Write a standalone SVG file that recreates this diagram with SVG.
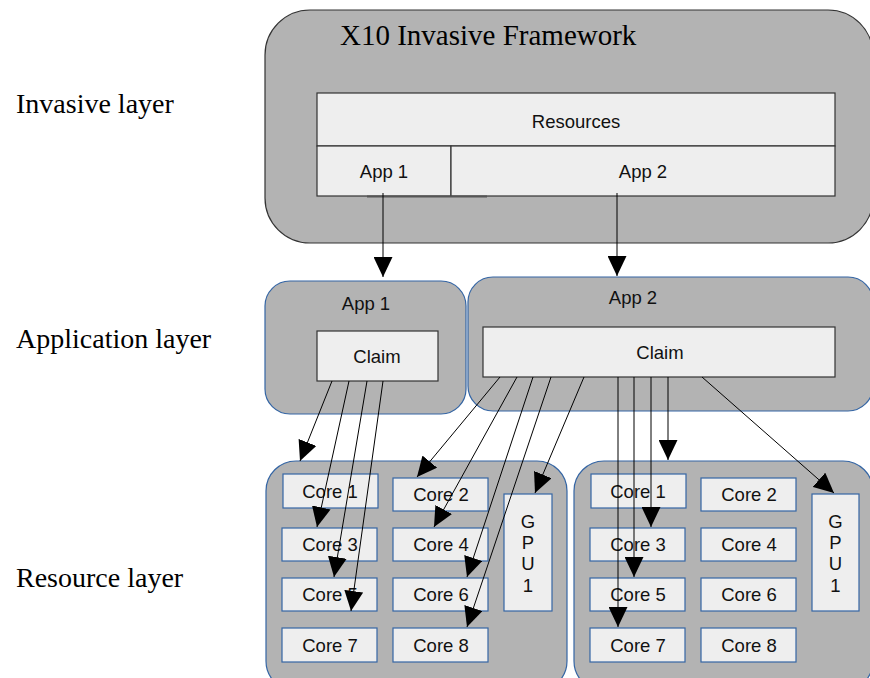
<svg xmlns="http://www.w3.org/2000/svg" width="870" height="678" viewBox="0 0 870 678">
<style>
.lbl{font-family:"Liberation Serif","Times New Roman",serif;font-size:28px;fill:#000}
.t{font-family:"Liberation Sans",Arial,sans-serif;font-size:18.5px;fill:#111;text-anchor:middle}
.grp{fill:#b3b3b3;stroke:#3465a4;stroke-width:1.2}
.top{fill:#b3b3b3;stroke:#333;stroke-width:1.2}
.cell{fill:#eeeeee;stroke:#333;stroke-width:1.2}
.core{fill:#eeeeee;stroke:#3465a4;stroke-width:1.2}
.c{stroke:#000;stroke-width:1;fill:none;marker-end:url(#ah)}
</style>
<defs>
<marker id="ah" markerUnits="userSpaceOnUse" markerWidth="20" markerHeight="19" refX="20" refY="9.5" orient="auto">
<path d="M0,0 L20,9.5 L0,19 z" fill="#000"/>
</marker>
</defs>
<rect width="870" height="678" fill="#fff"/>
<text class="lbl" x="16" y="113">Invasive layer</text>
<text class="lbl" x="16" y="348">Application layer</text>
<text class="lbl" x="16" y="587">Resource layer</text>

<g id="framework">
<rect class="top" x="265" y="10" width="608" height="233" rx="45"/>
<text class="lbl" x="340" y="45" style="font-size:29px">X10 Invasive Framework</text>
<rect class="cell" x="317" y="93" width="518" height="53"/>
<text class="t" x="576" y="128">Resources</text>
<rect class="cell" x="317" y="146" width="134" height="50"/>
<text class="t" x="384" y="178">App 1</text>
<rect class="cell" x="451" y="146" width="384" height="50"/>
<text class="t" x="643" y="178">App 2</text>
<line x1="367" y1="196.5" x2="487" y2="196.5" stroke="#555" stroke-width="2"/>
</g>

<g id="app1">
<rect class="grp" x="265" y="281" width="201" height="133" rx="25"/>
<text class="t" x="366" y="310">App 1</text>
<rect class="cell" x="317" y="331" width="121" height="50"/>
<text class="t" x="377" y="363">Claim</text>
</g>

<g id="app2">
<rect class="grp" x="468" y="277" width="405" height="134" rx="25"/>
<text class="t" x="633" y="304">App 2</text>
<rect class="cell" x="483" y="327" width="352" height="50"/>
<text class="t" x="660" y="359">Claim</text>
</g>

<g id="res1">
<rect class="grp" x="266" y="461" width="301" height="230" rx="30"/>
<rect class="core" x="283" y="474" width="95" height="34"/>
<text class="t" x="330" y="497.5">Core 1</text>
<rect class="core" x="393" y="478" width="95" height="33"/>
<text class="t" x="441" y="501">Core 2</text>
<rect class="core" x="282" y="528" width="95" height="33"/>
<text class="t" x="330" y="551">Core 3</text>
<rect class="core" x="393" y="528" width="95" height="33"/>
<text class="t" x="441" y="551">Core 4</text>
<rect class="core" x="282" y="578" width="95" height="33"/>
<text class="t" x="330" y="601">Core 5</text>
<rect class="core" x="393" y="578" width="95" height="33"/>
<text class="t" x="441" y="601">Core 6</text>
<rect class="core" x="282" y="628" width="95" height="34"/>
<text class="t" x="330" y="651.5">Core 7</text>
<rect class="core" x="393" y="628" width="95" height="34"/>
<text class="t" x="441" y="651.5">Core 8</text>
<rect class="core" x="504" y="494" width="48" height="117"/>
<text class="t" x="528" y="528">G</text>
<text class="t" x="528" y="549">P</text>
<text class="t" x="528" y="570">U</text>
<text class="t" x="528" y="592">1</text>
</g>

<g id="res2">
<rect class="grp" x="574" y="461" width="299" height="230" rx="30"/>
<rect class="core" x="591" y="474" width="95" height="34"/>
<text class="t" x="638" y="497.5">Core 1</text>
<rect class="core" x="701" y="478" width="95" height="33"/>
<text class="t" x="749" y="501">Core 2</text>
<rect class="core" x="590" y="528" width="95" height="33"/>
<text class="t" x="638" y="551">Core 3</text>
<rect class="core" x="701" y="528" width="95" height="33"/>
<text class="t" x="749" y="551">Core 4</text>
<rect class="core" x="590" y="578" width="95" height="33"/>
<text class="t" x="638" y="601">Core 5</text>
<rect class="core" x="701" y="578" width="95" height="33"/>
<text class="t" x="749" y="601">Core 6</text>
<rect class="core" x="590" y="628" width="95" height="34"/>
<text class="t" x="638" y="651.5">Core 7</text>
<rect class="core" x="701" y="628" width="95" height="34"/>
<text class="t" x="749" y="651.5">Core 8</text>
<rect class="core" x="812" y="494" width="47" height="117"/>
<text class="t" x="835.5" y="528">G</text>
<text class="t" x="835.5" y="549">P</text>
<text class="t" x="835.5" y="570">U</text>
<text class="t" x="835.5" y="592">1</text>
</g>

<g id="connectors">
<line class="c" x1="383" y1="193" x2="383" y2="277"/>
<line class="c" x1="617" y1="193" x2="617" y2="276"/>
<line class="c" x1="332" y1="381" x2="300" y2="461"/>
<line class="c" x1="349" y1="381" x2="317" y2="527"/>
<line class="c" x1="367" y1="381" x2="334" y2="577"/>
<line class="c" x1="383" y1="381" x2="351" y2="611"/>
<line class="c" x1="500" y1="377" x2="417" y2="477"/>
<line class="c" x1="517" y1="377" x2="434" y2="527"/>
<line class="c" x1="533" y1="377" x2="467" y2="577"/>
<line class="c" x1="551" y1="377" x2="467" y2="627"/>
<line class="c" x1="584" y1="377" x2="535" y2="493"/>
<line class="c" x1="618" y1="377" x2="618" y2="627"/>
<line class="c" x1="634" y1="377" x2="634" y2="577"/>
<line class="c" x1="651" y1="377" x2="651" y2="527"/>
<line class="c" x1="668" y1="377" x2="668" y2="460"/>
<line class="c" x1="702" y1="377" x2="834" y2="493"/>
</g>
</svg>
